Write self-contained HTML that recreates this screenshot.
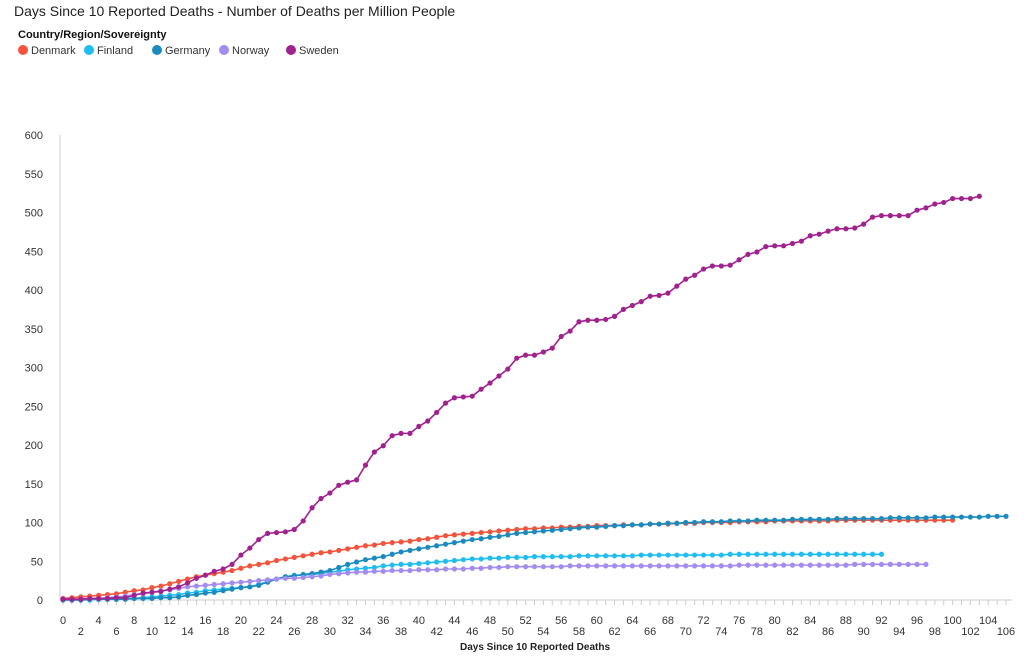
<!DOCTYPE html>
<html><head><meta charset="utf-8"><style>
body{margin:0;background:#fff;font-family:"Liberation Sans",sans-serif;}
svg{display:block}
</style></head><body>
<svg id="chart" width="1024" height="657" viewBox="0 0 1024 657">
<text x="14" y="16" font-size="14" fill="#222">Days Since 10 Reported Deaths - Number of Deaths per Million People</text>
<text x="18" y="38" font-size="11" font-weight="bold" fill="#111">Country/Region/Sovereignty</text>
<g id="legend"></g>
<g id="axes"></g>
<g id="series"></g>
<text x="535" y="650" font-size="10" font-weight="bold" text-anchor="middle" fill="#222">Days Since 10 Reported Deaths</text>
</svg>
<script>
const yTicks=[0,50,100,150,200,250,300,350,400,450,500,550,600];
const seriesNames=["Denmark","Finland","Germany","Norway","Sweden"];
const denmark=[2,3,4,5,6,7,8,10,12,13,16,18,21,24,27,30,32,34,36,38,41,44,46,48,51,53,55,57,59,61,62,64,66,68,70,71,73,74,75,76,78,79,81,83,84,85,86,87,88,89,90,91,92,92,93,93,94,94,95,95,96,96,96,97,97,97,98,98,98,99,99,99,100,100,100,100,101,101,101,101,102,102,102,102,102,102,102,103,103,103,103,103,103,103,103,103,103,103,103,103,103];
const finland=[0,0,0,0,1,1,1,2,2,3,4,5,6,7,9,10,12,13,14,15,16,17,20,24,27,30,32,32,33,34,36,37,39,40,41,42,44,45,46,46,47,48,49,50,51,52,53,53,54,54,55,55,55,56,56,56,56,56,57,57,57,57,57,57,57,58,58,58,58,58,58,58,58,58,58,59,59,59,59,59,59,59,59,59,59,59,59,59,59,59,59,59,59];
const germany=[0,0,0,1,1,1,1,1,2,2,2,3,3,4,6,7,9,10,12,14,16,17,19,23,27,30,31,33,34,36,38,42,46,49,52,54,56,59,62,64,66,68,70,72,74,76,78,79,81,82,84,86,87,88,89,90,91,92,93,94,94,95,96,96,97,97,98,98,99,99,100,100,101,101,101,102,102,102,103,103,103,103,104,104,104,104,104,105,105,105,105,105,105,106,106,106,106,106,107,107,107,107,107,107,108,108,108];
const norway=[1,1,1,2,2,3,4,5,7,8,10,12,13,15,17,18,19,20,21,22,23,24,25,26,27,28,28,29,30,31,33,34,35,36,36,37,37,38,38,38,39,39,39,40,40,40,41,41,42,42,43,43,43,43,43,43,43,44,44,44,44,44,44,44,44,44,44,44,44,44,44,44,44,44,44,44,45,45,45,45,45,45,45,45,45,45,45,45,45,46,46,46,46,46,46,46,46,46];
const sweden=[1,1,1,2,2,2,3,3,6,9,10,11,14,17,22,28,32,37,40,46,58,67,78,86,87,88,91,102,119,131,138,148,152,155,174,191,199,212,215,215,224,231,242,254,261,262,263,272,280,289,298,312,316,316,320,325,340,347,359,361,361,362,366,375,380,385,392,393,396,405,414,419,427,431,431,432,439,446,449,456,457,457,460,463,470,472,476,479,479,480,485,494,496,496,496,496,503,506,511,513,518,518,518,521];
const colors=["#f4533c","#1fbdf0","#1b8bbf","#a48bf0","#a1228f"];
const NS="http://www.w3.org/2000/svg";
const X0=63,X1=1006,XMAX=106,Y0=600,Y1=135,YMAX=600;
const xs=d=>X0+(X1-X0)*d/XMAX;
const ys=v=>Y0-(Y0-Y1)*v/YMAX;
function mk(tag,attrs,parent){const e=document.createElementNS(NS,tag);for(const k in attrs)e.setAttribute(k,attrs[k]);parent.appendChild(e);return e;}
const axes=document.getElementById('axes');
const la=mk('line',{x1:60,y1:Y1,x2:60,y2:Y0,stroke:'#ccc'},axes);

const ba=mk('line',{x1:60,y1:Y0,x2:1012,y2:Y0,stroke:'#ccc'},axes);

yTicks.forEach(v=>{const t=mk('text',{x:43,y:ys(v)+4,'font-size':11,'text-anchor':'end',fill:'#333'},axes);t.textContent=v;
});
for(let d=0;d<=XMAX;d++){const l=mk('line',{x1:xs(d),y1:Y0,x2:xs(d),y2:Y0+5,stroke:'#ccc'},axes);

if(d%2===0){const t=mk('text',{x:xs(d),y:d%4===0?624:635,'font-size':11,'text-anchor':'middle',fill:'#333'},axes);t.textContent=d;
}}
const data=[denmark,finland,germany,norway,sweden];
const sg=document.getElementById('series');
data.forEach((arr,i)=>{const g=mk('g',{},sg);

const p=mk('polyline',{points:arr.map((v,d)=>xs(d)+','+ys(v)).join(' '),fill:'none',stroke:colors[i],'stroke-width':1.6},g);

arr.forEach((v,d)=>{const c=mk('circle',{cx:xs(d),cy:ys(v),r:2.6,fill:colors[i]},g);
});});
const lg=document.getElementById('legend');
const lx=[18,84,152,219,286];
seriesNames.forEach((n,i)=>{const g=mk('g',{},lg);

mk('circle',{cx:lx[i]+5,cy:50,r:5,fill:colors[i]},g);
const t=mk('text',{x:lx[i]+13,y:54,'font-size':11,fill:'#333'},g);t.textContent=n;});
</script>
</body></html>
